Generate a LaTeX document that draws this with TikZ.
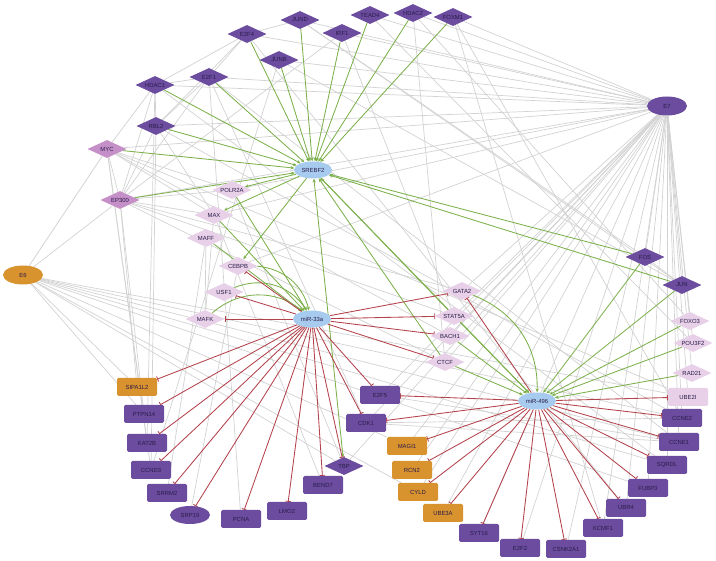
\documentclass[tikz,border=0pt]{standalone}
\usepackage{fontspec}
\setmainfont{Liberation Sans}
\usetikzlibrary{shapes.geometric,arrows.meta}
\pgfdeclarelayer{bg}
\pgfsetlayers{bg,main}
\definecolor{cdark}{HTML}{6B4C9E}
\definecolor{cmid}{HTML}{C58FC8}
\definecolor{clight}{HTML}{E7D0E8}
\definecolor{cblue}{HTML}{A6CBEE}
\definecolor{corange}{HTML}{D8922E}
\definecolor{cgray}{HTML}{D2D2D2}
\definecolor{cgreen}{HTML}{7CB04B}
\definecolor{cred}{HTML}{B3424B}
\definecolor{ctext}{HTML}{2B1D4A}
\begin{document}
\begin{tikzpicture}[x=1pt,y=-1pt,
  every node/.style={font=\fontsize{5.9}{7}\selectfont, text=ctext, inner sep=0.5pt},
  dia/.style={diamond, aspect=2.1, minimum width=39pt, minimum height=18pt},
  tfd/.style={dia, fill=cdark},
  tfm/.style={dia, fill=cmid},
  tfl/.style={dia, fill=clight},
  mirna/.style={ellipse, fill=cblue, minimum width=38pt, minimum height=17pt},
  vir/.style={ellipse, minimum width=40pt, minimum height=19pt},
  gbox/.style={rectangle, rounded corners=1.5pt, minimum width=40pt, minimum height=18pt, fill=cdark},
  obox/.style={gbox, fill=corange},
  lbox/.style={gbox, fill=clight},
  ppi/.style={draw=cgray, line width=0.7pt},
  act/.style={draw=cgreen, line width=0.85pt, -{Stealth[length=3.8pt,width=3.4pt]}},
  inh/.style={draw=cred, line width=0.85pt, -{Bar[width=5.5pt]}}]
\path[use as bounding box] (0,0) rectangle (716,561);
% dark transcription factors
\node[tfd] (JUND) at (300,20) {JUND};
\node[tfd] (TEADf) at (370,15) {TEAD4};
\node[tfd] (HDACb) at (413,13) {HDAC2};
\node[tfd] (FOXM) at (453,17) {FOXM1};
\node[tfd] (IRFa) at (342,33) {IRF1};
\node[tfd] (EFf) at (247,34) {E2F4};
\node[tfd] (JUNB) at (279,60) {JUNB};
\node[tfd] (EFa) at (209,77) {E2F1};
\node[tfd] (HDACa) at (155,85) {HDAC1};
\node[tfd] (RBL) at (156,126) {RBL2};
\node[tfd] (FOS) at (645,257) {FOS};
\node[tfd] (JUN) at (682,285) {JUN};
\node[tfd] (TBP) at (344,466) {TBP};
\node[tfm] (MYC) at (107,149) {MYC};
\node[tfm] (EP) at (120,200) {EP300};
% light transcription factors
\node[tfl] (POLR) at (232,190) {POLR2A};
\node[tfl] (MAX) at (214,215) {MAX};
\node[tfl] (MAFF) at (206,238) {MAFF};
\node[tfl] (CEBPB) at (238,266) {CEBPB};
\node[tfl] (USF) at (224,292) {USF1};
\node[tfl] (MAFK) at (205,319) {MAFK};
\node[tfl] (GATA) at (462,291) {GATA2};
\node[tfl] (STAT) at (454,316) {STAT5A};
\node[tfl] (BACH) at (450,336) {BACH1};
\node[tfl] (CTCF) at (445,362) {CTCF};
\node[tfl] (FOXO) at (690,321) {FOXO3};
\node[tfl] (POU) at (693,343) {POU3F2};
\node[tfl] (RAD) at (692,373) {RAD21};
% miRNAs and host gene
\node[mirna] (srebf) at (313,170) {SREBF2};
\node[mirna] (mirA) at (312,319) {miR-33a};
\node[mirna] (mirB) at (537,401) {miR-496};
% viral proteins
\node[vir, fill=corange] (E6) at (23,275) {E6};
\node[vir, fill=cdark] (E7) at (667,106) {E7};
% targets
\node[obox] (SIPA) at (137,387) {SIPA1L2};
\node[gbox] (PTPN) at (144,414) {PTPN14};
\node[gbox] (KAT) at (147,443) {KAT2B};
\node[gbox] (CCNDc) at (151,470) {CCND3};
\node[gbox] (SRRM) at (167,493) {SRRM2};
\node[ellipse, fill=cdark, minimum width=40pt, minimum height=18pt] (SRP) at (190,515) {SRP19};
\node[gbox] (PCNA) at (241,519) {PCNA};
\node[gbox] (LMO) at (287,511) {LMO2};
\node[gbox] (BEND) at (323,485) {BEND7};
\node[gbox] (EFe) at (380,395) {E2F5};
\node[gbox] (CDK) at (366,423) {CDK1};
\node[obox] (MAGI) at (407,446) {MAGI1};
\node[obox] (RCN) at (412,470) {RCN2};
\node[obox] (CYLD) at (418,492) {CYLD};
\node[obox] (UBEc) at (443,513) {UBE3A};
\node[gbox] (SYT) at (479,533) {SYT16};
\node[gbox] (EFb) at (520,548) {E2F2};
\node[gbox] (CSNK) at (566,549) {CSNK2A1};
\node[gbox] (KCMF) at (603,528) {KCMF1};
\node[gbox] (UBR) at (626,508) {UBR4};
\node[gbox] (FUBP) at (648,488) {FUBP3};
\node[gbox] (SQRDL) at (667,465) {SQRDL};
\node[gbox] (CCNEa) at (679,442) {CCNE1};
\node[gbox] (CCNEb) at (682,418) {CCNE2};
\node[lbox] (UBEi) at (688,397) {UBE2I};
\begin{pgfonlayer}{bg}
% grey interactions
\foreach \t in {FOXM,HDACb,TEADf,IRFa,JUND,EFf,JUNB,EFa,HDACa,RBL,MYC,EP,POLR,MAX,GATA,STAT,BACH,CTCF,FOS,JUN,FOXO,POU,RAD,UBEi,CCNEb,CCNEa,SQRDL,FUBP,UBR,KCMF,CSNK,EFb,SYT,UBEc,CYLD,RCN,MAGI,CDK,EFe,TBP,CEBPB}
  \draw[ppi] (E7) -- (\t);
\foreach \t in {MYC,EP,SIPA,UBEi,CCNEb,CCNEa,SQRDL,FUBP,TBP,CYLD,MAGI,PTPN}
  \draw[ppi] (E6) -- (\t);
\foreach \a/\b in {HDACa/EFf,HDACa/EFa,HDACa/RBL,EFa/RBL,EFf/RBL,EFf/EFa,EFf/JUND,MYC/EP,MYC/MAX,MYC/HDACa,EP/HDACa,EP/RBL,EP/EFa,EP/MAX,EP/POLR,MYC/POLR,RBL/MAX,MAX/MAFK,MAFF/MAFK,MAFF/SRRM,MYC/KAT,MYC/CCNDc,EP/SIPA,EP/PTPN,RBL/CCNDc,HDACa/KAT,EFa/PCNA,EFa/CCNEa,EFa/CDK,EP/CTCF,EP/STAT,EP/GATA,MYC/BACH,JUND/FOS,JUN/FOS,JUNB/JUN,JUND/JUN,IRFa/STAT,HDACb/CTCF,FOXM/CCNEb,FOXM/KCMF,HDACb/FOXO,TEADf/POU,SRP/CEBPB,CDK/CCNEa,CDK/CCNEb,EFe/CCNEa,JUNB/CCNDc,IRFa/EP,EFf/UBR,HDACa/SQRDL,RBL/CCNEb,POLR/TBP,MAX/BEND,MYC/UBEi}
  \draw[ppi] (\a) -- (\b);
% activations
\foreach \s in {JUND,TEADf,HDACb,FOXM,IRFa,EFf,JUNB,EFa,HDACa,RBL,MYC,EP,FOS,JUN,STAT,CTCF}
  \draw[act] (\s) -- (srebf);
\draw[act, {Stealth[length=3.8pt,width=3.4pt]}-{Stealth[length=3.8pt,width=3.4pt]}] (srebf) -- (TBP);
\foreach \t in {POLR,MAX,CEBPB,mirB}
  \draw[act] (srebf) -- (\t);
\foreach \s in {POLR,MAX,MAFF}
  \draw[act] (\s) -- (mirA);
\draw[act] (CEBPB) to[bend left=35] (mirA);
\draw[act] (USF) to[bend left=40] (mirA);
\draw[act] (MAFK) to[bend left=40] (mirA);
\draw[act] (GATA) to[bend left=35] (mirB);
\foreach \s in {STAT,BACH,CTCF,FOS,JUN,FOXO,POU,RAD}
  \draw[act] (\s) -- (mirB);
% inhibitions
\foreach \t in {CEBPB,USF,MAFK,GATA,STAT,BACH,CTCF,EFe,CDK,TBP,BEND,LMO,PCNA,SRP,SRRM,CCNDc,KAT,PTPN,SIPA}
  \draw[inh] (mirA) -- (\t);
\foreach \t in {EFe,CDK,MAGI,RCN,CYLD,UBEc,SYT,EFb,CSNK,KCMF,UBR,FUBP,SQRDL,CCNEa,CCNEb,UBEi,GATA}
  \draw[inh] (mirB) -- (\t);
\end{pgfonlayer}
\end{tikzpicture}
\end{document}
